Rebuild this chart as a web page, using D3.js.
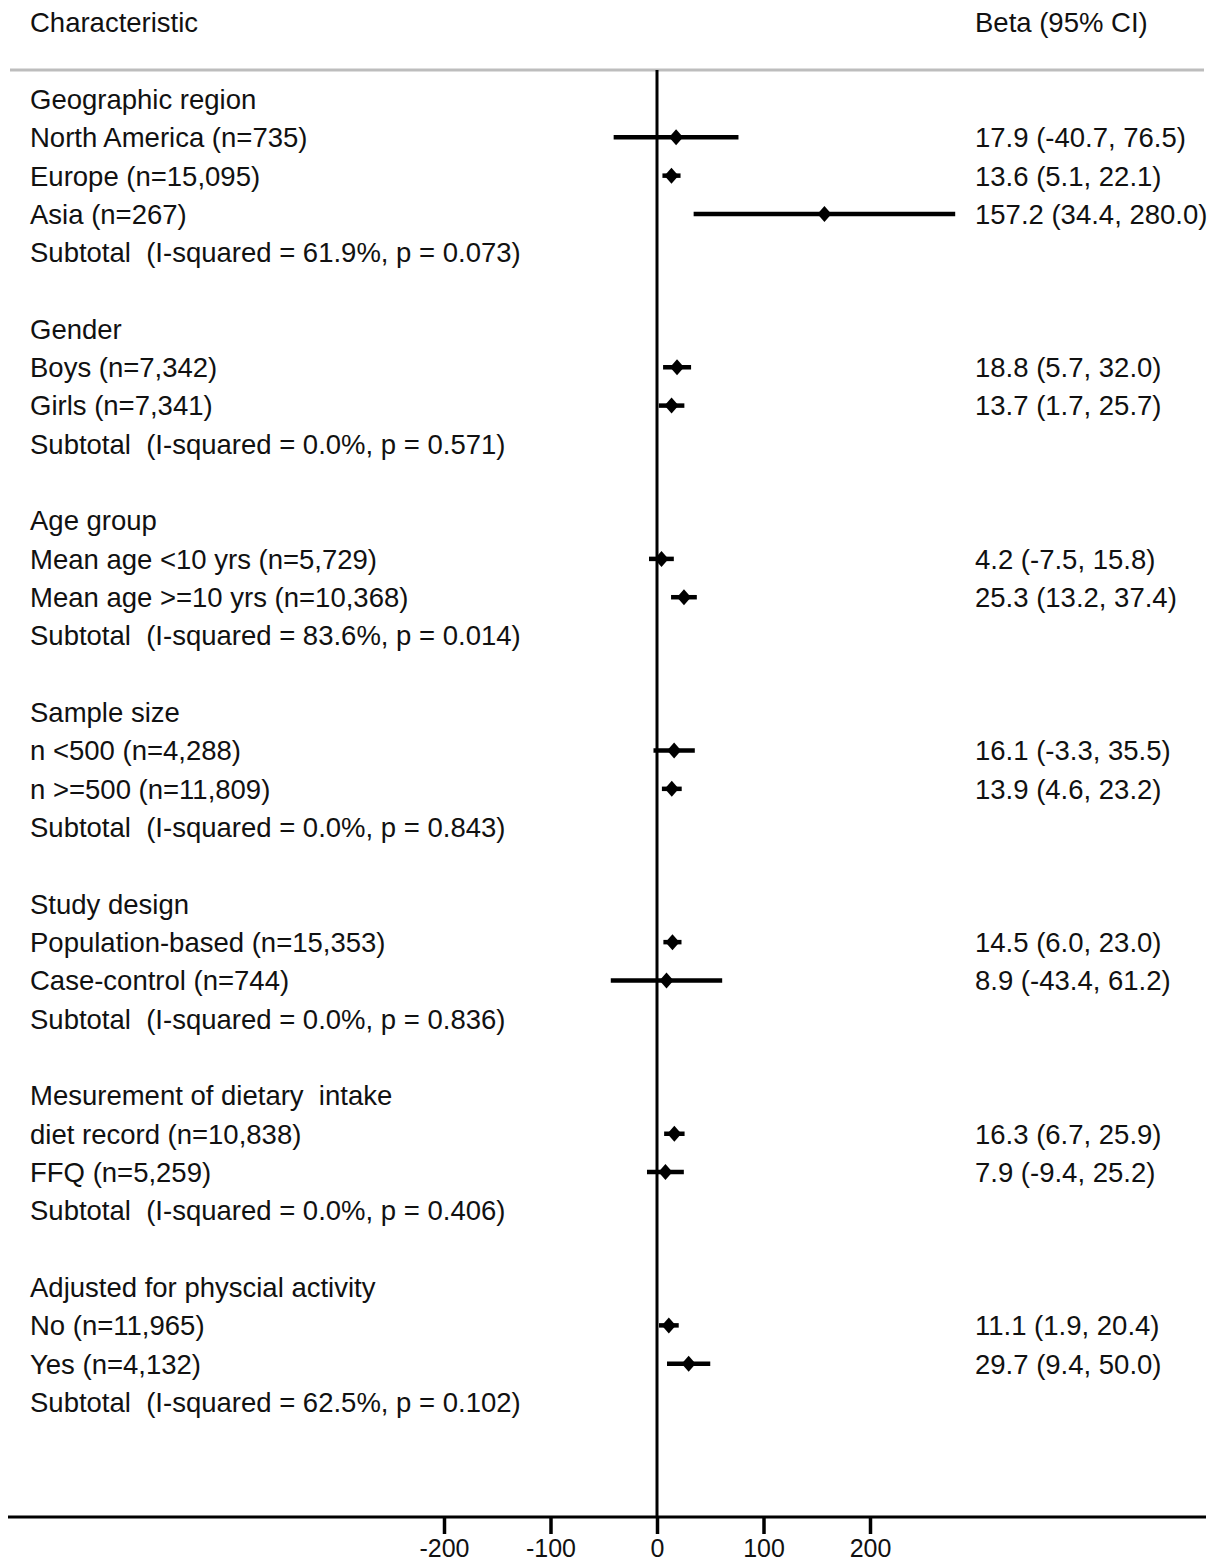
<!DOCTYPE html>
<html>
<head>
<meta charset="utf-8">
<script src="https://cdn.jsdelivr.net/npm/d3@7"></script>
<style>
  html, body { margin: 0; padding: 0; background: #fff; }
  svg { display: block; }
  text { font-family: "Liberation Sans", Arial, sans-serif; fill: #111; white-space: pre; }
</style>
</head>
<body>
<svg id="chart" width="1214" height="1565"></svg>
<script>
// Row labels (left column), one per row of the forest plot
const rowLabels = [
  "Geographic region", "North America (n=735)", "Europe (n=15,095)", "Asia (n=267)",
  "Subtotal  (I-squared = 61.9%, p = 0.073)", "",
  "Gender", "Boys (n=7,342)", "Girls (n=7,341)",
  "Subtotal  (I-squared = 0.0%, p = 0.571)", "",
  "Age group", "Mean age <10 yrs (n=5,729)", "Mean age >=10 yrs (n=10,368)",
  "Subtotal  (I-squared = 83.6%, p = 0.014)", "",
  "Sample size", "n <500 (n=4,288)", "n >=500 (n=11,809)",
  "Subtotal  (I-squared = 0.0%, p = 0.843)", "",
  "Study design", "Population-based (n=15,353)", "Case-control (n=744)",
  "Subtotal  (I-squared = 0.0%, p = 0.836)", "",
  "Mesurement of dietary  intake", "diet record (n=10,838)", "FFQ (n=5,259)",
  "Subtotal  (I-squared = 0.0%, p = 0.406)", "",
  "Adjusted for physcial activity", "No (n=11,965)", "Yes (n=4,132)",
  "Subtotal  (I-squared = 62.5%, p = 0.102)"
];

// Estimates per row (null where the row carries no marker)
const beta = [
  null, 17.9, 13.6, 157.2, null, null,
  null, 18.8, 13.7, null, null,
  null, 4.2, 25.3, null, null,
  null, 16.1, 13.9, null, null,
  null, 14.5, 8.9, null, null,
  null, 16.3, 7.9, null, null,
  null, 11.1, 29.7, null
];
const lower = [
  null, -40.7, 5.1, 34.4, null, null,
  null, 5.7, 1.7, null, null,
  null, -7.5, 13.2, null, null,
  null, -3.3, 4.6, null, null,
  null, 6.0, -43.4, null, null,
  null, 6.7, -9.4, null, null,
  null, 1.9, 9.4, null
];
const upper = [
  null, 76.5, 22.1, 280.0, null, null,
  null, 32.0, 25.7, null, null,
  null, 15.8, 37.4, null, null,
  null, 35.5, 23.2, null, null,
  null, 23.0, 61.2, null, null,
  null, 25.9, 25.2, null, null,
  null, 20.4, 50.0, null
];

const axisTicks = [-200, -100, 0, 100, 200];
const headers = ["Characteristic", "Beta (95% CI)"];

const svg = d3.select("#chart");
const fs = 27.5;

// Scales: effect size horizontally, row index vertically
const x = d3.scaleLinear().domain([-200, 200]).range([444, 870]);
const y = d3.scaleLinear().domain([0, 37]).range([99, 1517]);
const axisY = y(37);
const topLineY = 70;

// Header texts
svg.append("text").attr("x", 30).attr("y", 22).attr("dy", "0.35em")
  .attr("font-size", fs).text(headers[0]);
svg.append("text").attr("x", 975).attr("y", 22).attr("dy", "0.35em")
  .attr("font-size", fs).text(headers[1]);

// Grey rule below headers
svg.append("line").attr("x1", 10).attr("x2", 1204)
  .attr("y1", topLineY).attr("y2", topLineY)
  .attr("stroke", "#bdbdbd").attr("stroke-width", 3);

// Line of no effect
svg.append("line").attr("x1", x(0)).attr("x2", x(0))
  .attr("y1", topLineY).attr("y2", axisY)
  .attr("stroke", "#000").attr("stroke-width", 3);

// Row labels
svg.append("g").selectAll("text").data(rowLabels).join("text")
  .attr("x", 30).attr("y", (d, i) => y(i)).attr("dy", "0.36em")
  .attr("font-size", fs).text(d => d);

const rows = beta.map((b, i) => ({ i, b, lo: lower[i], hi: upper[i] }))
  .filter(d => d.b !== null);

// Effect labels (right column)
svg.append("g").selectAll("text").data(rows).join("text")
  .attr("x", 975).attr("y", d => y(d.i)).attr("dy", "0.36em")
  .attr("font-size", fs)
  .text(d => `${d.b.toFixed(1)} (${d.lo.toFixed(1)}, ${d.hi.toFixed(1)})`);

// Confidence intervals
svg.append("g").selectAll("line").data(rows).join("line")
  .attr("x1", d => x(d.lo)).attr("x2", d => x(d.hi))
  .attr("y1", d => y(d.i)).attr("y2", d => y(d.i))
  .attr("stroke", "#000").attr("stroke-width", 4.5);

// Point estimates as diamonds
const dw = 7, dh = 8;
svg.append("g").selectAll("path").data(rows).join("path")
  .attr("d", d => {
    const cx = x(d.b), cy = y(d.i);
    return `M${cx - dw},${cy}L${cx},${cy - dh}L${cx + dw},${cy}L${cx},${cy + dh}Z`;
  })
  .attr("fill", "#000");

// Bottom axis
svg.append("line").attr("x1", 8).attr("x2", 1206)
  .attr("y1", axisY).attr("y2", axisY)
  .attr("stroke", "#000").attr("stroke-width", 3);

const axis = d3.axisBottom(x).tickValues(axisTicks).tickSize(17).tickPadding(5)
  .tickFormat(d => String(d));
const gAxis = svg.append("g").attr("transform", `translate(0,${axisY})`).call(axis);
gAxis.select(".domain").remove();
gAxis.selectAll(".tick line").attr("stroke", "#000").attr("stroke-width", 3.5);
gAxis.selectAll(".tick text").attr("font-size", 25).attr("fill", "#111")
  .attr("font-family", "Liberation Sans, Arial, sans-serif");
</script>
</body>
</html>
